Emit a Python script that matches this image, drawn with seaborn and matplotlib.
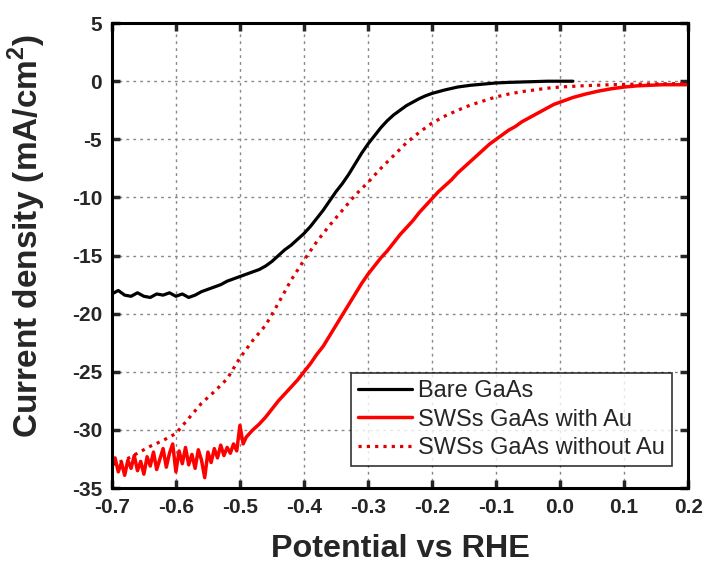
import numpy as np
import pandas as pd
import seaborn as sns
import matplotlib.pyplot as plt

# Potential (V vs RHE) and current density (mA/cm2)
bare_x = [-0.70, -0.69, -0.68, -0.67, -0.66, -0.65, -0.64, -0.63, -0.62, -0.61,
          -0.60, -0.59, -0.58, -0.57, -0.56, -0.55, -0.54, -0.53, -0.52, -0.51,
          -0.50, -0.49, -0.48, -0.47, -0.46, -0.45, -0.44, -0.43, -0.42, -0.41,
          -0.40, -0.39, -0.38, -0.37, -0.36, -0.35, -0.34, -0.33, -0.32, -0.31,
          -0.30, -0.29, -0.28, -0.27, -0.26, -0.25, -0.24, -0.23, -0.22, -0.21,
          -0.20, -0.18, -0.16, -0.14, -0.12, -0.10, -0.08, -0.05, -0.02, 0.02]
bare_y = [-18.3, -18.0, -18.4, -18.5, -18.2, -18.5, -18.6, -18.3, -18.4, -18.2,
          -18.5, -18.3, -18.6, -18.4, -18.1, -17.9, -17.7, -17.5, -17.2, -17.0,
          -16.8, -16.6, -16.4, -16.2, -15.9, -15.5, -15.0, -14.5, -14.1, -13.6,
          -13.1, -12.5, -11.8, -11.1, -10.3, -9.5, -8.8, -8.0, -7.1, -6.2,
          -5.4, -4.7, -4.0, -3.4, -2.9, -2.5, -2.1, -1.8, -1.5, -1.25,
          -1.05, -0.75, -0.5, -0.35, -0.25, -0.15, -0.1, -0.05, 0.0, 0.0]

au_x = [-0.700, -0.695, -0.690, -0.685, -0.680, -0.675, -0.670, -0.665, -0.660, -0.655,
        -0.650, -0.645, -0.640, -0.635, -0.630, -0.625, -0.620, -0.615, -0.610, -0.605,
        -0.600, -0.595, -0.590, -0.585, -0.580, -0.575, -0.570, -0.565, -0.560, -0.555,
        -0.550, -0.545, -0.540, -0.535, -0.530, -0.525, -0.520, -0.515, -0.510, -0.505,
        -0.500, -0.495, -0.490,
        -0.48, -0.47, -0.46, -0.45, -0.44, -0.43, -0.42, -0.41, -0.40, -0.39,
        -0.38, -0.37, -0.36, -0.35, -0.34, -0.33, -0.32, -0.31, -0.30, -0.29,
        -0.28, -0.27, -0.26, -0.25, -0.24, -0.23, -0.22, -0.21, -0.20, -0.19,
        -0.18, -0.17, -0.16, -0.15, -0.14, -0.13, -0.12, -0.11, -0.10, -0.09,
        -0.08, -0.07, -0.06, -0.05, -0.04, -0.03, -0.02, -0.01, 0.00, 0.02,
        0.04, 0.06, 0.08, 0.10, 0.12, 0.14, 0.16, 0.18, 0.20]
au_y = [-33.2, -32.4, -33.6, -32.8, -33.9, -32.6, -33.3, -32.2, -33.5, -32.7,
        -33.8, -32.3, -33.1, -31.9, -33.4, -32.5, -31.6, -33.2, -32.0, -31.2,
        -33.6, -31.8, -32.9, -31.5, -33.0, -32.1, -33.3, -31.7, -32.6, -34.1,
        -31.9, -32.8, -31.6, -32.4, -31.3, -32.2, -31.5, -32.0, -31.2, -31.8,
        -29.6, -31.2, -30.6,
        -30.0, -29.5, -28.9, -28.2, -27.5, -26.9, -26.3, -25.7, -25.0, -24.3,
        -23.5, -22.8, -21.9, -21.0, -20.1, -19.2, -18.3, -17.4, -16.6, -15.9,
        -15.2, -14.6, -13.9, -13.2, -12.6, -12.0, -11.3, -10.7, -10.1, -9.5,
        -9.0, -8.5, -7.9, -7.4, -6.9, -6.4, -5.9, -5.4, -5.0, -4.6,
        -4.2, -3.9, -3.5, -3.2, -2.9, -2.6, -2.3, -2.0, -1.8, -1.4,
        -1.1, -0.85, -0.65, -0.5, -0.4, -0.35, -0.3, -0.3, -0.3]

noau_x = [-0.70, -0.68, -0.66, -0.64, -0.62, -0.60, -0.58, -0.56, -0.54, -0.52,
          -0.50, -0.48, -0.46, -0.44, -0.42, -0.40, -0.38, -0.36, -0.34, -0.32,
          -0.30, -0.28, -0.26, -0.24, -0.22, -0.20, -0.18, -0.16, -0.14, -0.12,
          -0.10, -0.08, -0.06, -0.04, -0.02, 0.00, 0.04, 0.08, 0.12, 0.16, 0.20]
noau_y = [-33.0, -32.6, -32.0, -31.4, -30.9, -30.3, -29.0, -27.7, -26.7, -25.6,
          -23.8, -22.3, -21.0, -19.1, -17.1, -15.4, -13.8, -12.4, -11.1, -9.8,
          -8.7, -7.5, -6.4, -5.3, -4.4, -3.6, -3.0, -2.5, -2.05, -1.7,
          -1.35, -1.1, -0.9, -0.75, -0.6, -0.5, -0.38, -0.3, -0.25, -0.22, -0.2]

x_ticks = [-0.7, -0.6, -0.5, -0.4, -0.3, -0.2, -0.1, 0.0, 0.1, 0.2]
x_labels = ["-0.7", "-0.6", "-0.5", "-0.4", "-0.3", "-0.2", "-0.1", "0.0", "0.1", "0.2"]
y_ticks = [-35, -30, -25, -20, -15, -10, -5, 0, 5]
y_labels = ["-35", "-30", "-25", "-20", "-15", "-10", "-5", "0", "5"]

sns.set_style("ticks")
plt.rcParams['font.family'] = ['Liberation Sans', 'DejaVu Sans']
plt.rcParams['axes.unicode_minus'] = False
plt.rcParams['mathtext.fontset'] = 'custom'
plt.rcParams['mathtext.bf'] = 'Liberation Sans:bold'
plt.rcParams['mathtext.rm'] = 'Liberation Sans:bold'

fig, ax = plt.subplots(figsize=(7.08, 5.63), dpi=100)
plt.subplots_adjust(left=0.158, right=0.972, bottom=0.133, top=0.959)

sns.lineplot(x=bare_x, y=bare_y, color='black', lw=2.3, sort=False,
             estimator=None, label='Bare GaAs', ax=ax)
sns.lineplot(x=au_x, y=au_y, color='#ff0000', lw=2.5, sort=False,
             estimator=None, label='SWSs GaAs with Au', ax=ax)
sns.lineplot(x=noau_x, y=noau_y, color='#e00000', lw=2.3, sort=False,
             estimator=None, label='SWSs GaAs without Au', ax=ax)
ax.lines[2].set_linestyle((0, (1, 1.6)))

ax.set_xlim(-0.7, 0.2)
ax.set_ylim(-35, 5)
ax.set_xticks(x_ticks)
ax.set_xticklabels(x_labels)
ax.set_yticks(y_ticks)
ax.set_yticklabels(y_labels)
ax.grid(True, color='#888888', linestyle=(0, (2, 3)), lw=1)
ax.tick_params(direction='in', length=6, width=2.5, top=True, right=True,
               labelsize=15, pad=7)
for lab in ax.get_xticklabels() + ax.get_yticklabels():
    lab.set_fontweight('bold')
for s in ax.spines.values():
    s.set_linewidth(2.2)
    s.set_color('black')

ax.set_xlabel("Potential vs RHE", fontsize=23.3, fontweight='bold', labelpad=12)
ax.set_ylabel("Current density (mA/cm$^{2}$)", fontsize=24, fontweight='bold')
ax.yaxis.set_label_coords(-0.11, 0.542)

leg = ax.legend(loc='lower right', bbox_to_anchor=(0.972, 0.047), borderaxespad=0,
                fontsize=17, frameon=True, fancybox=False, edgecolor='black',
                handlelength=2.3, handletextpad=0.25, borderpad=0.3,
                labelspacing=0.28)
leg.get_frame().set_linewidth(1.2)

plt.savefig("out.png", dpi=100)
